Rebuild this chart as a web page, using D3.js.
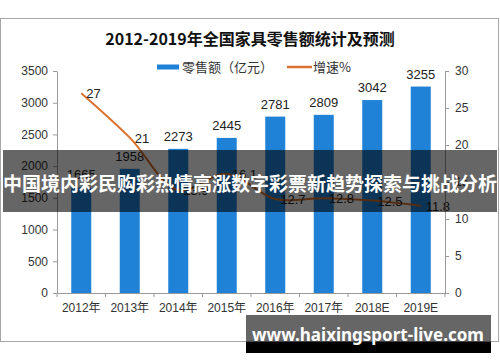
<!DOCTYPE html>
<html>
<head>
<meta charset="utf-8">
<script src="https://cdn.jsdelivr.net/npm/d3@7"></script>
<style>
  body { margin: 0; background: #fff; }
  svg { display: block; }
</style>
</head>
<body>
<svg id="chart" width="500" height="362"></svg>
<script>
// 数据
var years = ['2012年', '2013年', '2014年', '2015年', '2016年', '2017年', '2018E', '2019E']
var sales = [1665, 1958, 2273, 2445, 2781, 2809, 3042, 3255]
var growth = [27, 21, 13.9, 16.1, 12.7, 12.8, 12.5, 11.8]
var leftTicks = [0, 500, 1000, 1500, 2000, 2500, 3000, 3500]
var rightTicks = [0, 5, 10, 15, 20, 25, 30]

var title = '2012-2019年全国家具零售额统计及预测'
var bannerText = '中国境内彩民购彩热情高涨数字彩票新趋势探索与挑战分析'
var siteText = 'www.haixingsport-live.com'

var barColor = '#1f82d6'
var lineColor = '#d9722e'
var axisColor = '#999'
var numFont = '"Liberation Sans", Arial, sans-serif'
var cjkFont = '"Noto Sans CJK SC", sans-serif'

var svg = d3.select('#chart')

// 外框
svg.append('rect')
  .attr('x', 0.5).attr('y', 18.5)
  .attr('width', 498).attr('height', 323)
  .attr('fill', '#fff').attr('stroke', '#a6a6a6')

// 标题
svg.append('text')
  .attr('x', 250).attr('y', 45)
  .attr('text-anchor', 'middle')
  .attr('font-family', cjkFont)
  .attr('font-weight', 'bold')
  .attr('font-size', 16)
  .attr('fill', '#111')
  .text(title)

// 图例
var lg = svg.append('g').attr('font-family', cjkFont).attr('font-size', 13).attr('fill', '#333')
lg.append('rect').attr('x', 157).attr('y', 64.5).attr('width', 22).attr('height', 5).attr('fill', barColor)
lg.append('text').attr('x', 182).attr('y', 72).text('零售额（亿元）')
lg.append('line').attr('x1', 287).attr('x2', 312).attr('y1', 67).attr('y2', 67)
  .attr('stroke', lineColor).attr('stroke-width', 2.5)
lg.append('text').attr('x', 313).attr('y', 72).text('增速%')

// 比例尺
var xc = d3.scaleBand().domain(years).range([57, 445])
var yL = d3.scaleLinear().domain([0, 3500]).range([293, 71])
var yR = d3.scaleLinear().domain([0, 30]).range([293, 71])

// 柱
svg.append('g').selectAll('rect')
  .data(sales)
  .join('rect')
  .attr('x', (d, i) => xc(years[i]) + xc.bandwidth() / 2 - 10)
  .attr('width', 20)
  .attr('y', (d) => yL(d))
  .attr('height', (d) => yL(0) - yL(d))
  .attr('fill', barColor)

svg.append('g').selectAll('text')
  .data(sales)
  .join('text')
  .attr('x', (d, i) => xc(years[i]) + xc.bandwidth() / 2)
  .attr('y', (d) => yL(d) - 8)
  .attr('text-anchor', 'middle')
  .attr('font-family', numFont)
  .attr('font-size', 13)
  .attr('fill', '#222')
  .text((d) => d)

// 增速曲线
var line = d3.line()
  .x((d, i) => xc(years[i]) + xc.bandwidth() / 2)
  .y((d) => yR(d))
  .curve(d3.curveCatmullRom.alpha(0.5))

svg.append('path')
  .datum(growth)
  .attr('d', line)
  .attr('fill', 'none')
  .attr('stroke', lineColor)
  .attr('stroke-width', 2)

svg.append('g').selectAll('text')
  .data(growth)
  .join('text')
  .attr('x', (d, i) => xc(years[i]) + xc.bandwidth() / 2 + 5)
  .attr('y', (d) => yR(d) + 5)
  .attr('font-family', numFont)
  .attr('font-size', 13)
  .attr('fill', '#222')
  .text((d) => d)

// 坐标轴
function styleAxis(g) {
  g.select('.domain').attr('stroke', axisColor)
  g.selectAll('.tick line').attr('stroke', axisColor)
  g.selectAll('.tick text').attr('fill', '#333').attr('font-family', numFont).attr('font-size', 12)
}

svg.append('g')
  .attr('transform', 'translate(57,0)')
  .call(d3.axisLeft(yL).tickValues(leftTicks).tickFormat(d3.format('d')).tickSize(4).tickSizeOuter(0).tickPadding(5))
  .call(styleAxis)

svg.append('g')
  .attr('transform', 'translate(445,0)')
  .call(d3.axisRight(yR).tickValues(rightTicks).tickFormat(d3.format('d')).tickSize(4).tickSizeOuter(0).tickPadding(6))
  .call(styleAxis)

var xAxis = svg.append('g')
  .attr('transform', 'translate(0,293)')
  .call(d3.axisBottom(xc).tickSize(0).tickPadding(10).tickSizeOuter(0))
  .call(styleAxis)
xAxis.selectAll('.tick text').attr('font-family', numFont + ',' + cjkFont)
// 类别分隔刻度
xAxis.selectAll('line.sep')
  .data(years.concat(['end']))
  .join('line')
  .attr('class', 'sep')
  .attr('x1', (d, i) => 57 + i * xc.step())
  .attr('x2', (d, i) => 57 + i * xc.step())
  .attr('y1', 0).attr('y2', 4)
  .attr('stroke', axisColor)

// 横幅
svg.append('rect')
  .attr('x', 3).attr('y', 150)
  .attr('width', 494).attr('height', 62)
  .attr('fill', 'rgba(0,0,0,0.6)')
svg.append('text')
  .attr('x', 250).attr('y', 191)
  .attr('text-anchor', 'middle')
  .attr('font-family', cjkFont)
  .attr('font-weight', 'bold')
  .attr('font-size', 19)
  .attr('fill', '#fff')
  .text(bannerText)

// 网址水印
svg.append('rect')
  .attr('x', 246).attr('y', 315)
  .attr('width', 245).attr('height', 27)
  .attr('fill', 'rgba(0,0,0,0.6)')
svg.append('rect')
  .attr('x', 246).attr('y', 342)
  .attr('width', 245).attr('height', 11)
  .attr('fill', '#000')
svg.append('text')
  .attr('x', 368).attr('y', 341)
  .attr('text-anchor', 'middle')
  .attr('font-family', '"Noto Sans", sans-serif')
  .attr('font-weight', 'bold')
  .attr('font-size', 17)
  .attr('fill', '#fff')
  .text(siteText)
</script>
</body>
</html>
